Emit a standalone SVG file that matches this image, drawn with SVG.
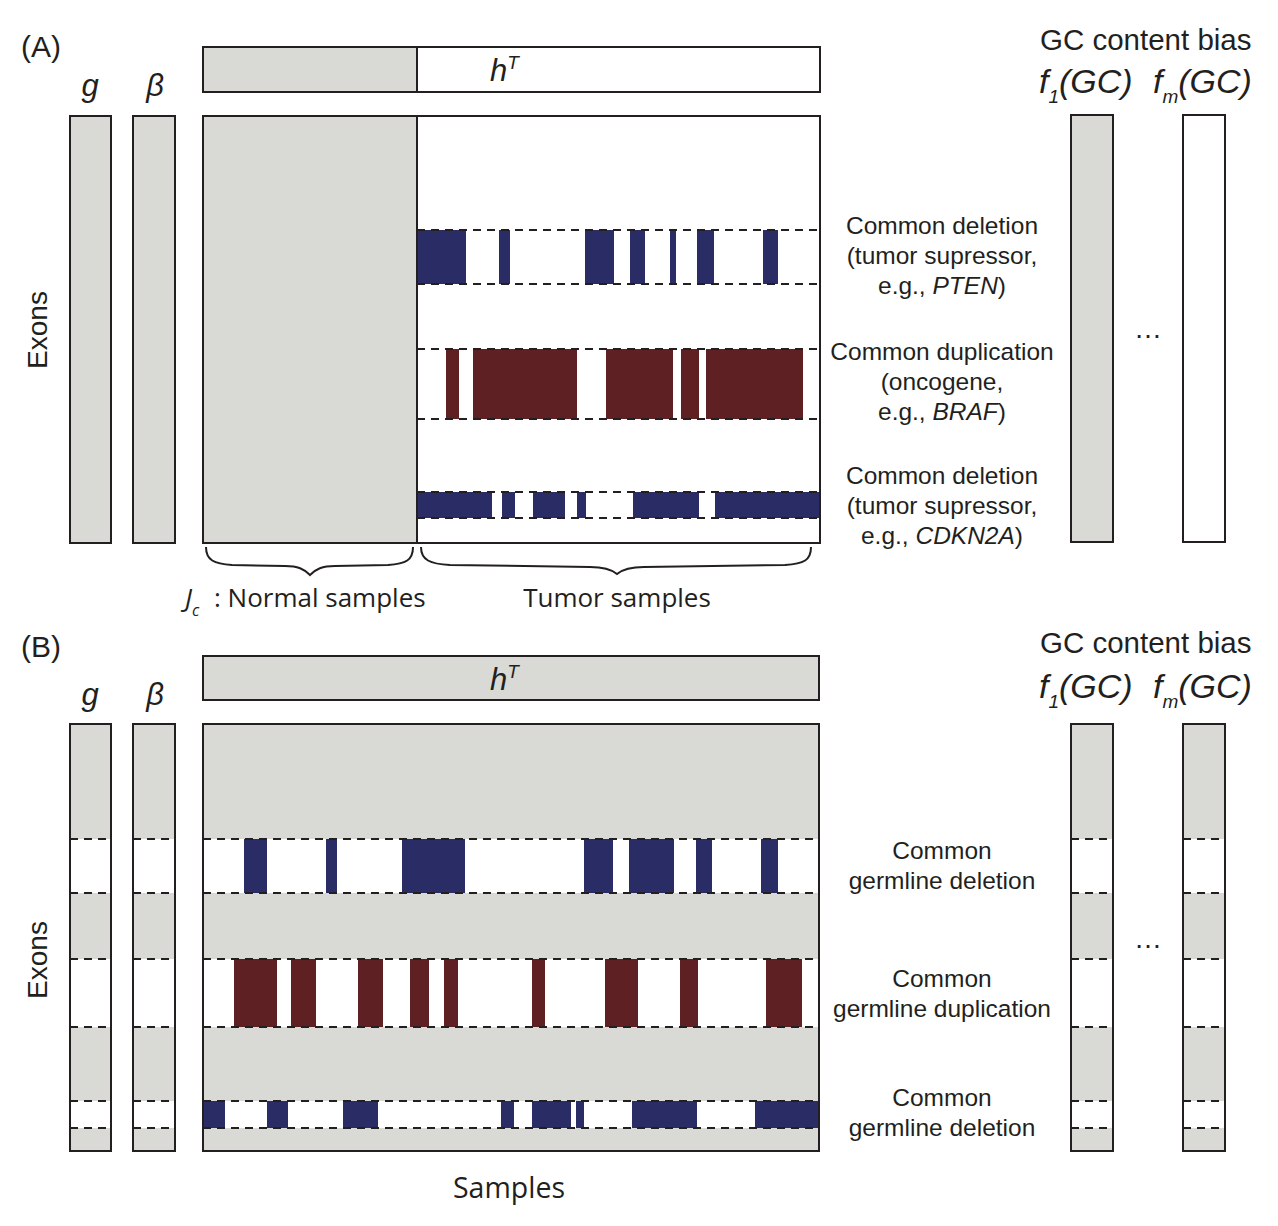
<svg xmlns="http://www.w3.org/2000/svg" width="1278" height="1226" viewBox="0 0 1278 1226">
<style>
.g{fill:#d9dad5}
.w{fill:#fff}
.bd{fill:none;stroke:#231f20;stroke-width:2}
.ds{stroke:#231f20;stroke-width:2;stroke-dasharray:8 6;fill:none}
.bl{fill:#2a2c66}
.rd{fill:#5e2022}
.t{font-family:"Liberation Sans",Arial,sans-serif;fill:#231f20}
.lab{font-family:"Liberation Sans",Arial,sans-serif;font-size:24.5px;fill:#231f20;text-anchor:middle}
.it{font-style:italic}
.my{font-family:"Open Sans","Liberation Sans",sans-serif;font-size:26px;fill:#231f20}
</style>
<rect width="1278" height="1226" fill="#fff"/>

<!-- Panel A -->
<g id="panelA-title"><text class="t" x="21" y="57" font-size="30">(A)</text></g>
<g id="A-g">
<text class="t it" x="90" y="96" font-size="31" text-anchor="middle">g</text>
<rect class="g" x="70" y="116" width="41" height="427"/><rect class="bd" x="70" y="116" width="41" height="427"/>
</g>
<g id="A-beta">
<text class="t it" x="155" y="96" font-size="31" text-anchor="middle">β</text>
<rect class="g" x="133" y="116" width="42" height="427"/><rect class="bd" x="133" y="116" width="42" height="427"/>
</g>
<g id="A-hT">
<rect class="g" x="203" y="47" width="214" height="45"/>
<rect class="bd" x="203" y="47" width="617" height="45"/>
<line class="bd" x1="417" y1="47" x2="417" y2="92"/>
<text class="t it" x="490" y="81" font-size="31">h<tspan font-size="19" dy="-12">T</tspan></text>
</g>
<g id="A-matrix">
<rect class="g" x="203" y="116" width="214" height="427"/>
<g class="bl">
<rect x="417" y="230" width="49" height="54"/>
<rect x="499" y="230" width="11" height="54"/>
<rect x="585" y="230" width="29" height="54"/>
<rect x="630" y="230" width="15" height="54"/>
<rect x="670" y="230" width="6" height="54"/>
<rect x="697" y="230" width="17" height="54"/>
<rect x="763" y="230" width="15" height="54"/>
</g>
<g class="rd">
<rect x="446" y="349" width="13" height="70"/>
<rect x="473" y="349" width="104" height="70"/>
<rect x="606" y="349" width="67" height="70"/>
<rect x="681" y="349" width="18" height="70"/>
<rect x="706" y="349" width="97" height="70"/>
</g>
<g class="bl">
<rect x="417" y="492" width="75" height="26"/>
<rect x="502" y="492" width="13" height="26"/>
<rect x="533" y="492" width="32" height="26"/>
<rect x="577" y="492" width="9" height="26"/>
<rect x="633" y="492" width="66" height="26"/>
<rect x="715" y="492" width="104" height="26"/>
</g>
<path class="ds" d="M417,230H819M417,284H819M417,349H819M417,419H819M417,492H819M417,518H819"/>
<rect class="bd" x="203" y="116" width="617" height="427"/>
<line class="bd" x1="417" y1="116" x2="417" y2="543"/>
</g>
<g id="A-exons"><text class="t" font-size="28" transform="translate(47,330) rotate(-90)" text-anchor="middle">Exons</text></g>
<g id="A-labels">
<text class="lab" x="942" y="234">Common deletion</text>
<text class="lab" x="942" y="264">(tumor supressor,</text>
<text class="lab" x="942" y="294">e.g., <tspan class="it">PTEN</tspan>)</text>
<text class="lab" x="942" y="360">Common duplication</text>
<text class="lab" x="942" y="390">(oncogene,</text>
<text class="lab" x="942" y="420">e.g., <tspan class="it">BRAF</tspan>)</text>
<text class="lab" x="942" y="484">Common deletion</text>
<text class="lab" x="942" y="514">(tumor supressor,</text>
<text class="lab" x="942" y="544">e.g., <tspan class="it">CDKN2A</tspan>)</text>
</g>
<g id="A-gc">
<text class="t" x="1040" y="50" font-size="29.5">GC content bias</text>
<text class="t it" x="1039" y="93" font-size="34">f<tspan font-size="19" dy="10">1</tspan><tspan dy="-10">(GC)</tspan></text>
<text class="t it" x="1153" y="93" font-size="34">f<tspan font-size="19" dy="10">m</tspan><tspan dy="-10">(GC)</tspan></text>
<rect class="g" x="1071" y="115" width="42" height="427"/><rect class="bd" x="1071" y="115" width="42" height="427"/>
<rect class="bd" x="1183" y="115" width="42" height="427"/>
<text class="t" x="1148" y="338" font-size="28" text-anchor="middle">…</text>
</g>
<g id="A-braces">
<path class="bd" d="M206,547 C206,560 214,564 232,565 L285,566 C298,566 304,569 310,575 C316,569 322,566 335,566 L388,565 C406,564 413,560 413,547"/>
<path class="bd" d="M421,547 C421,560 430,564 450,565 L590,567 C604,567 611,569 617,574 C623,569 630,567 644,567 L785,565 C804,564 811,560 811,547"/>
<text class="my" x="185" y="607"><tspan class="it">J</tspan><tspan font-size="16" dy="9" class="it">c</tspan><tspan x="214" dy="-9">: Normal samples</tspan></text>
<text class="my" x="617" y="607" text-anchor="middle">Tumor samples</text>
</g>

<!-- Panel B -->
<g id="panelB-title"><text class="t" x="21" y="657" font-size="30">(B)</text></g>
<g id="B-g">
<text class="t it" x="90" y="705" font-size="31" text-anchor="middle">g</text>
<rect class="g" x="70" y="724" width="41" height="427"/>
<rect class="w" x="70" y="839" width="41" height="54"/><rect class="w" x="70" y="959" width="41" height="68"/><rect class="w" x="70" y="1101" width="41" height="27"/>
<path class="ds" d="M70,839H111M70,893H111M70,959H111M70,1027H111M70,1101H111M70,1128H111"/>
<rect class="bd" x="70" y="724" width="41" height="427"/>
</g>
<g id="B-beta">
<text class="t it" x="155" y="705" font-size="31" text-anchor="middle">β</text>
<rect class="g" x="133" y="724" width="42" height="427"/>
<rect class="w" x="133" y="839" width="42" height="54"/><rect class="w" x="133" y="959" width="42" height="68"/><rect class="w" x="133" y="1101" width="42" height="27"/>
<path class="ds" d="M133,839H175M133,893H175M133,959H175M133,1027H175M133,1101H175M133,1128H175"/>
<rect class="bd" x="133" y="724" width="42" height="427"/>
</g>
<g id="B-hT">
<rect class="g" x="203" y="656" width="616" height="44"/>
<rect class="bd" x="203" y="656" width="616" height="44"/>
<text class="t it" x="490" y="690" font-size="31">h<tspan font-size="19" dy="-12">T</tspan></text>
</g>
<g id="B-matrix">
<rect class="g" x="203" y="724" width="616" height="427"/>
<rect class="w" x="203" y="839" width="616" height="54"/>
<rect class="w" x="203" y="959" width="616" height="68"/>
<rect class="w" x="203" y="1101" width="616" height="27"/>
<g class="bl">
<rect x="244" y="839" width="23" height="54"/>
<rect x="326" y="839" width="11" height="54"/>
<rect x="402" y="839" width="63" height="54"/>
<rect x="584" y="839" width="29" height="54"/>
<rect x="629" y="839" width="45" height="54"/>
<rect x="696" y="839" width="16" height="54"/>
<rect x="761" y="839" width="17" height="54"/>
</g>
<g class="rd">
<rect x="234" y="959" width="43" height="68"/>
<rect x="291" y="959" width="25" height="68"/>
<rect x="358" y="959" width="25" height="68"/>
<rect x="410" y="959" width="19" height="68"/>
<rect x="444" y="959" width="14" height="68"/>
<rect x="532" y="959" width="13" height="68"/>
<rect x="605" y="959" width="33" height="68"/>
<rect x="680" y="959" width="18" height="68"/>
<rect x="766" y="959" width="36" height="68"/>
</g>
<g class="bl">
<rect x="203" y="1101" width="22" height="27"/>
<rect x="267" y="1101" width="21" height="27"/>
<rect x="343" y="1101" width="35" height="27"/>
<rect x="501" y="1101" width="13" height="27"/>
<rect x="532" y="1101" width="39" height="27"/>
<rect x="576" y="1101" width="8" height="27"/>
<rect x="632" y="1101" width="65" height="27"/>
<rect x="755" y="1101" width="64" height="27"/>
</g>
<path class="ds" d="M203,839H819M203,893H819M203,959H819M203,1027H819M203,1101H819M203,1128H819"/>
<rect class="bd" x="203" y="724" width="616" height="427"/>
</g>
<g id="B-exons"><text class="t" font-size="28" transform="translate(47,960) rotate(-90)" text-anchor="middle">Exons</text></g>
<g id="B-labels">
<text class="lab" x="942" y="859">Common</text>
<text class="lab" x="942" y="889">germline deletion</text>
<text class="lab" x="942" y="987">Common</text>
<text class="lab" x="942" y="1017">germline duplication</text>
<text class="lab" x="942" y="1106">Common</text>
<text class="lab" x="942" y="1136">germline deletion</text>
</g>
<g id="B-gc">
<text class="t" x="1040" y="653" font-size="29.5">GC content bias</text>
<text class="t it" x="1039" y="698" font-size="34">f<tspan font-size="19" dy="10">1</tspan><tspan dy="-10">(GC)</tspan></text>
<text class="t it" x="1153" y="698" font-size="34">f<tspan font-size="19" dy="10">m</tspan><tspan dy="-10">(GC)</tspan></text>
<rect class="g" x="1071" y="724" width="42" height="427"/>
<rect class="w" x="1071" y="839" width="42" height="54"/><rect class="w" x="1071" y="959" width="42" height="68"/><rect class="w" x="1071" y="1101" width="42" height="27"/>
<path class="ds" d="M1071,839H1113M1071,893H1113M1071,959H1113M1071,1027H1113M1071,1101H1113M1071,1128H1113"/>
<rect class="bd" x="1071" y="724" width="42" height="427"/>
<rect class="g" x="1183" y="724" width="42" height="427"/>
<rect class="w" x="1183" y="839" width="42" height="54"/><rect class="w" x="1183" y="959" width="42" height="68"/><rect class="w" x="1183" y="1101" width="42" height="27"/>
<path class="ds" d="M1183,839H1225M1183,893H1225M1183,959H1225M1183,1027H1225M1183,1101H1225M1183,1128H1225"/>
<rect class="bd" x="1183" y="724" width="42" height="427"/>
<text class="t" x="1148" y="948" font-size="28" text-anchor="middle">…</text>
</g>
<g id="B-samples"><text class="my" x="509" y="1198" text-anchor="middle" style="font-size:28.5px">Samples</text></g>
</svg>
